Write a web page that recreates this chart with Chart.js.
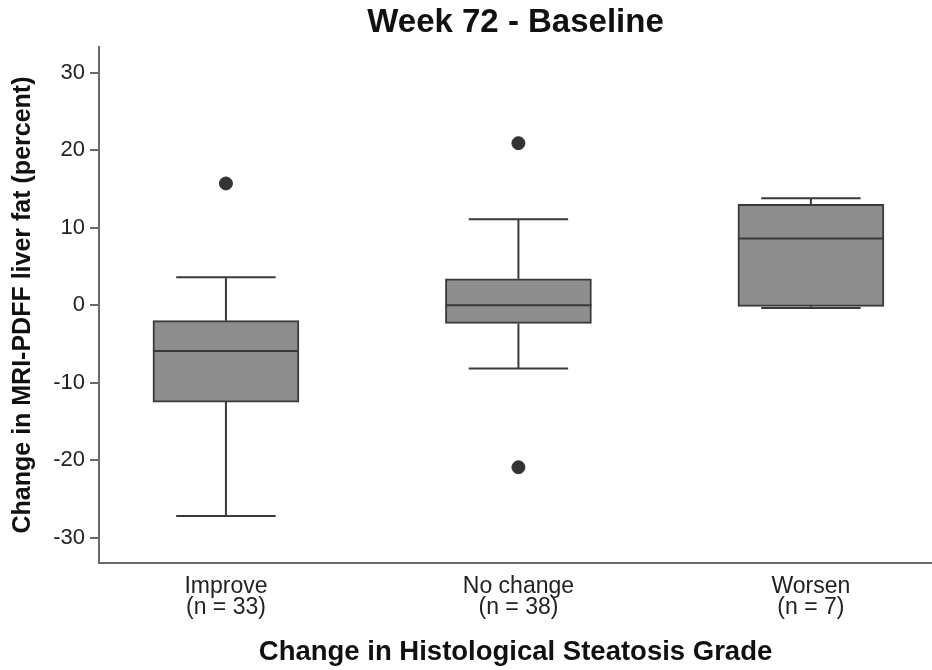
<!DOCTYPE html>
<html>
<head>
<meta charset="utf-8">
<script src="https://cdn.jsdelivr.net/npm/chart.js@4.4.1/dist/chart.umd.min.js"></script>
<style>
  body { margin: 0; background: #fff; }
  #wrap { width: 932px; height: 670px; }
</style>
</head>
<body>
<div id="wrap"><canvas id="myChart"></canvas></div>
<script>
// values
const categories = ['Improve', 'No change', 'Worsen'];
const counts = [33, 38, 7];
const whiskerLow = [-27.2, -8.15, -0.35];
const q1 = [-12.5, -2.35, -0.15];
const median = [-5.9, 0.0, 8.6];
const q3 = [-2.0, 3.4, 13.0];
const whiskerHigh = [3.6, 11.1, 13.8];
const outliers = [[15.7], [20.9, -20.9], []];
const yTicks = [-30, -20, -10, 0, 10, 20, 30];

const lineColor = '#3a3a3a';
const axisColor = '#6a6a6a';
const capHalf = 0.17; // whisker cap half width, x units

// boxes as floating bars
const boxData = categories.map((c, i) => ({ x: i + 1, y: [q1[i], q3[i]] }));

// outlier points
const outlierData = [];
outliers.forEach((list, i) => {
  list.forEach(v => outlierData.push({ x: i + 1, y: v }));
});

// whiskers and medians, drawn with the chart's scales
const boxLines = {
  id: 'boxLines',
  afterDatasetsDraw(chart) {
    const ctx = chart.ctx;
    const xs = chart.scales.x, ys = chart.scales.y;
    const meta = chart.getDatasetMeta(0);
    ctx.save();
    ctx.strokeStyle = lineColor;
    ctx.lineWidth = 2;
    categories.forEach((c, i) => {
      const bar = meta.data[i];
      const half = bar.width / 2;
      const cx = xs.getPixelForValue(i + 1);
      const cl = xs.getPixelForValue(i + 1 - capHalf);
      const cr = xs.getPixelForValue(i + 1 + capHalf);
      ctx.beginPath();
      // median
      ctx.moveTo(cx - half, ys.getPixelForValue(median[i]));
      ctx.lineTo(cx + half, ys.getPixelForValue(median[i]));
      // upper whisker
      ctx.moveTo(cx, ys.getPixelForValue(q3[i]));
      ctx.lineTo(cx, ys.getPixelForValue(whiskerHigh[i]));
      ctx.moveTo(cl, ys.getPixelForValue(whiskerHigh[i]));
      ctx.lineTo(cr, ys.getPixelForValue(whiskerHigh[i]));
      // lower whisker
      ctx.moveTo(cx, ys.getPixelForValue(q1[i]));
      ctx.lineTo(cx, ys.getPixelForValue(whiskerLow[i]));
      ctx.moveTo(cl, ys.getPixelForValue(whiskerLow[i]));
      ctx.lineTo(cr, ys.getPixelForValue(whiskerLow[i]));
      ctx.stroke();
    });
    ctx.restore();
  }
};

Chart.defaults.font.family = '"Liberation Sans", Arial, sans-serif';
Chart.defaults.color = '#222';

const ctx = document.getElementById('myChart');
const chart = new Chart(ctx, {
  type: 'bar',
  data: {
    datasets: [
      {
        type: 'bar',
        data: boxData,
        backgroundColor: '#8e8e8e',
        borderColor: lineColor,
        borderWidth: 2,
        borderSkipped: false,
        barThickness: 146
      },
      {
        type: 'scatter',
        data: outlierData,
        backgroundColor: '#333',
        borderColor: '#333',
        pointRadius: 6.5
      }
    ]
  },
  options: {
    responsive: true,
    maintainAspectRatio: false,
    animation: false,
    layout: { padding: 0, autoPadding: false },
    plugins: {
      legend: { display: false },
      tooltip: { enabled: false },
      title: {
        display: true,
        fullSize: false,
        text: 'Week 72 - Baseline',
        color: '#111',
        font: { size: 33, weight: 'bold' },
        padding: { top: 3, bottom: 4.4 }
      }
    },
    scales: {
      x: {
        type: 'linear',
        min: 0.566,
        max: 3.414,
        offset: false,
        afterBuildTicks: s => { s.ticks = categories.map((c, i) => ({ value: i + 1 })); },
        afterFit: s => { s.height = 107; },
        grid: { display: false, drawTicks: false },
        border: { display: true, color: axisColor, width: 2 },
        ticks: {
          padding: 13.6,
          color: '#222',
          font: { size: 23, lineHeight: 0.9 },
          maxRotation: 0,
          callback: (v) => {
            const i = Math.round(v) - 1;
            return [categories[i], '(n = ' + counts[i] + ')'];
          }
        },
        title: {
          display: true,
          text: 'Change in Histological Steatosis Grade',
          color: '#111',
          font: { size: 27.5, weight: 'bold' },
          padding: { top: 0, bottom: 1 }
        }
      },
      y: {
        min: -33.25,
        max: 33.3,
        afterBuildTicks: s => { s.ticks = yTicks.map(v => ({ value: v })); },
        afterFit: s => { s.width = 99; },
        grid: { drawOnChartArea: false, drawTicks: true, tickLength: 9, color: axisColor, lineWidth: 2 },
        border: { display: true, color: axisColor, width: 2 },
        ticks: { padding: 5, color: '#222', font: { size: 22 } },
        title: {
          display: true,
          text: 'Change in MRI-PDFF liver fat (percent)',
          color: '#111',
          font: { size: 25, weight: 'bold' },
          padding: { top: 8, bottom: 0 }
        }
      }
    }
  },
  plugins: [boxLines]
});
</script>
</body>
</html>
